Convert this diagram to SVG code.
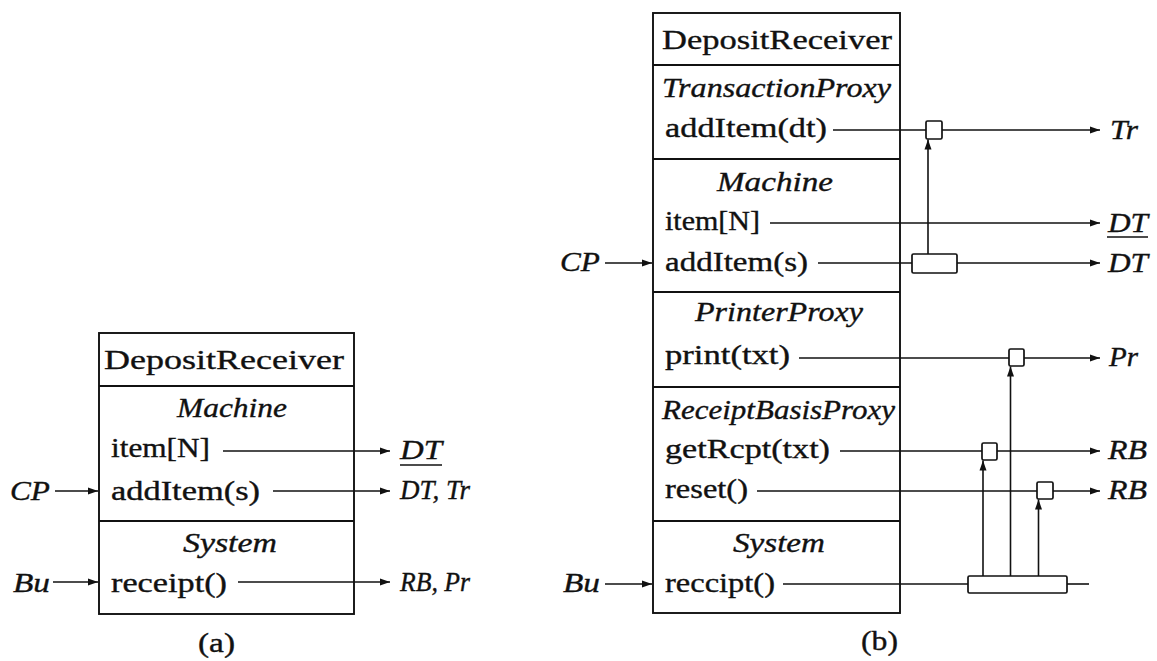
<svg xmlns="http://www.w3.org/2000/svg" width="1157" height="661" viewBox="0 0 1157 661">
  <style>
    .frame { fill: none; stroke: #111; stroke-width: 1.9; }
    .wire { fill: none; stroke: #111; stroke-width: 1.6; }
    .junc { fill: #fff; stroke: #111; stroke-width: 1.7; }
    .t { font-family: "Liberation Serif", "Times New Roman", serif; font-size: 26.5px; fill: #111; stroke: #111; stroke-width: 0.35; }
    .hd { font-size: 28px; }
    .it { font-style: italic; }
  </style>
  <defs>
    <marker id="arrow" markerUnits="userSpaceOnUse" markerWidth="11" markerHeight="8" refX="10" refY="4" orient="auto">
      <path d="M0,0.5 L10,4 L0,7.5 Z" fill="#111"/>
    </marker>
  </defs>

  <!-- (a) DepositReceiver component -->
  <g id="recv-a">
    <rect class="frame" x="99" y="333" width="255" height="281"/>
    <line class="frame" x1="99" y1="386" x2="354" y2="386"/>
    <line class="frame" x1="99" y1="521" x2="354" y2="521"/>
    <text class="t hd" x="104" y="369" textLength="240" lengthAdjust="spacingAndGlyphs">DepositReceiver</text>
    <text class="t it" x="177" y="417" textLength="110" lengthAdjust="spacingAndGlyphs">Machine</text>
    <text class="t" x="111" y="457" textLength="99" lengthAdjust="spacingAndGlyphs">item[N]</text>
    <text class="t" x="111" y="500" textLength="149" lengthAdjust="spacingAndGlyphs">addItem(s)</text>
    <text class="t it" x="183" y="552" textLength="94" lengthAdjust="spacingAndGlyphs">System</text>
    <text class="t" x="111" y="592" textLength="116" lengthAdjust="spacingAndGlyphs">receipt()</text>
  </g>

  <!-- (a) external endpoints -->
  <g id="cp-a"><text class="t it" x="10" y="500" textLength="40" lengthAdjust="spacingAndGlyphs">CP</text></g>
  <g id="bu-a"><text class="t it" x="13" y="592" textLength="37" lengthAdjust="spacingAndGlyphs">Bu</text></g>
  <g id="dtu-a">
    <text class="t it" x="400" y="459" textLength="42" lengthAdjust="spacingAndGlyphs">DT</text>
    <line class="wire" x1="400" y1="465" x2="442" y2="465"/>
  </g>
  <g id="dttr-a"><text class="t it" x="400" y="499" textLength="70" lengthAdjust="spacingAndGlyphs">DT, Tr</text></g>
  <g id="rbpr-a"><text class="t it" x="400" y="591" textLength="70" lengthAdjust="spacingAndGlyphs">RB, Pr</text></g>
  <g id="cap-a"><text class="t" x="198" y="652" textLength="37" lengthAdjust="spacingAndGlyphs">(a)</text></g>

  <!-- (b) DepositReceiver component -->
  <g id="recv-b">
    <rect class="frame" x="653" y="13" width="247" height="600"/>
    <line class="frame" x1="653" y1="65" x2="900" y2="65"/>
    <line class="frame" x1="653" y1="159" x2="900" y2="159"/>
    <line class="frame" x1="653" y1="292" x2="900" y2="292"/>
    <line class="frame" x1="653" y1="387" x2="900" y2="387"/>
    <line class="frame" x1="653" y1="521" x2="900" y2="521"/>
    <text class="t hd" x="662" y="49" textLength="230" lengthAdjust="spacingAndGlyphs">DepositReceiver</text>
    <text class="t it" x="662" y="97" textLength="229" lengthAdjust="spacingAndGlyphs">TransactionProxy</text>
    <text class="t" x="665" y="137" textLength="162" lengthAdjust="spacingAndGlyphs">addItem(dt)</text>
    <text class="t it" x="717" y="191" textLength="116" lengthAdjust="spacingAndGlyphs">Machine</text>
    <text class="t" x="665" y="230" textLength="95" lengthAdjust="spacingAndGlyphs">item[N]</text>
    <text class="t" x="665" y="271" textLength="143" lengthAdjust="spacingAndGlyphs">addItem(s)</text>
    <text class="t it" x="695" y="321" textLength="168" lengthAdjust="spacingAndGlyphs">PrinterProxy</text>
    <text class="t" x="665" y="364" textLength="125" lengthAdjust="spacingAndGlyphs">print(txt)</text>
    <text class="t it" x="662" y="419" textLength="233" lengthAdjust="spacingAndGlyphs">ReceiptBasisProxy</text>
    <text class="t" x="665" y="458" textLength="165" lengthAdjust="spacingAndGlyphs">getRcpt(txt)</text>
    <text class="t" x="665" y="498" textLength="83" lengthAdjust="spacingAndGlyphs">reset()</text>
    <text class="t it" x="733" y="552" textLength="92" lengthAdjust="spacingAndGlyphs">System</text>
    <text class="t" x="665" y="592" textLength="110" lengthAdjust="spacingAndGlyphs">reccipt()</text>
  </g>

  <!-- (b) junction boxes -->
  <g id="j-tr"><rect class="junc" x="926" y="121" width="16" height="18" rx="1.5"/></g>
  <g id="j-add"><rect class="junc" x="912" y="254" width="45" height="19" rx="1.5"/></g>
  <g id="j-pr"><rect class="junc" x="1009" y="349" width="15" height="17" rx="1.5"/></g>
  <g id="j-rcpt"><rect class="junc" x="982" y="443" width="15" height="17" rx="1.5"/></g>
  <g id="j-reset"><rect class="junc" x="1037" y="482" width="16" height="17" rx="1.5"/></g>
  <g id="j-sys"><rect class="junc" x="968" y="576" width="99" height="17" rx="1.5"/></g>

  <!-- (b) external endpoints -->
  <g id="cp-b"><text class="t it" x="560" y="271" textLength="40" lengthAdjust="spacingAndGlyphs">CP</text></g>
  <g id="bu-b"><text class="t it" x="563" y="592" textLength="37" lengthAdjust="spacingAndGlyphs">Bu</text></g>
  <g id="tr-b"><text class="t it" x="1110" y="139" textLength="28" lengthAdjust="spacingAndGlyphs">Tr</text></g>
  <g id="dtu-b">
    <text class="t it" x="1108" y="232" textLength="40" lengthAdjust="spacingAndGlyphs">DT</text>
    <line class="wire" x1="1107" y1="237" x2="1148" y2="237"/>
  </g>
  <g id="dt-b"><text class="t it" x="1108" y="272" textLength="40" lengthAdjust="spacingAndGlyphs">DT</text></g>
  <g id="pr-b"><text class="t it" x="1109" y="366" textLength="29" lengthAdjust="spacingAndGlyphs">Pr</text></g>
  <g id="rb1-b"><text class="t it" x="1108" y="459" textLength="39" lengthAdjust="spacingAndGlyphs">RB</text></g>
  <g id="rb2-b"><text class="t it" x="1108" y="499" textLength="39" lengthAdjust="spacingAndGlyphs">RB</text></g>
  <g id="cap-b"><text class="t" x="861" y="650" textLength="37" lengthAdjust="spacingAndGlyphs">(b)</text></g>

  <!-- connectors -->
  <g id="connectors">
    <!-- (a) -->
    <line class="wire" x1="55" y1="491" x2="98" y2="491" marker-end="url(#arrow)"/>
    <line class="wire" x1="53" y1="582" x2="98" y2="582" marker-end="url(#arrow)"/>
    <line class="wire" x1="223" y1="451" x2="390" y2="451" marker-end="url(#arrow)"/>
    <line class="wire" x1="273" y1="491" x2="390" y2="491" marker-end="url(#arrow)"/>
    <line class="wire" x1="238" y1="582" x2="390" y2="582" marker-end="url(#arrow)"/>

    <!-- (b) inputs -->
    <line class="wire" x1="605" y1="263" x2="652" y2="263" marker-end="url(#arrow)"/>
    <line class="wire" x1="605" y1="584" x2="652" y2="584" marker-end="url(#arrow)"/>

    <!-- (b) outgoing wires -->
    <line class="wire" x1="833" y1="130" x2="926" y2="130"/>
    <line class="wire" x1="942" y1="130" x2="1100" y2="130" marker-end="url(#arrow)"/>
    <line class="wire" x1="770" y1="223" x2="1100" y2="223" marker-end="url(#arrow)"/>
    <line class="wire" x1="818" y1="263" x2="912" y2="263"/>
    <line class="wire" x1="957" y1="263" x2="1100" y2="263" marker-end="url(#arrow)"/>
    <line class="wire" x1="799" y1="358" x2="1009" y2="358"/>
    <line class="wire" x1="1024" y1="358" x2="1100" y2="358" marker-end="url(#arrow)"/>
    <line class="wire" x1="840" y1="451" x2="982" y2="451"/>
    <line class="wire" x1="997" y1="451" x2="1100" y2="451" marker-end="url(#arrow)"/>
    <line class="wire" x1="757" y1="491" x2="1037" y2="491"/>
    <line class="wire" x1="1053" y1="491" x2="1100" y2="491" marker-end="url(#arrow)"/>
    <line class="wire" x1="783" y1="584" x2="968" y2="584"/>
    <line class="wire" x1="1067" y1="584" x2="1089" y2="584"/>

    <!-- (b) vertical triggers -->
    <line class="wire" x1="928" y1="254" x2="928" y2="139.5" marker-end="url(#arrow)"/>
    <line class="wire" x1="983" y1="576" x2="983" y2="460.5" marker-end="url(#arrow)"/>
    <line class="wire" x1="1010.5" y1="576" x2="1010.5" y2="366.5" marker-end="url(#arrow)"/>
    <line class="wire" x1="1038.5" y1="576" x2="1038.5" y2="499.5" marker-end="url(#arrow)"/>
  </g>
</svg>
